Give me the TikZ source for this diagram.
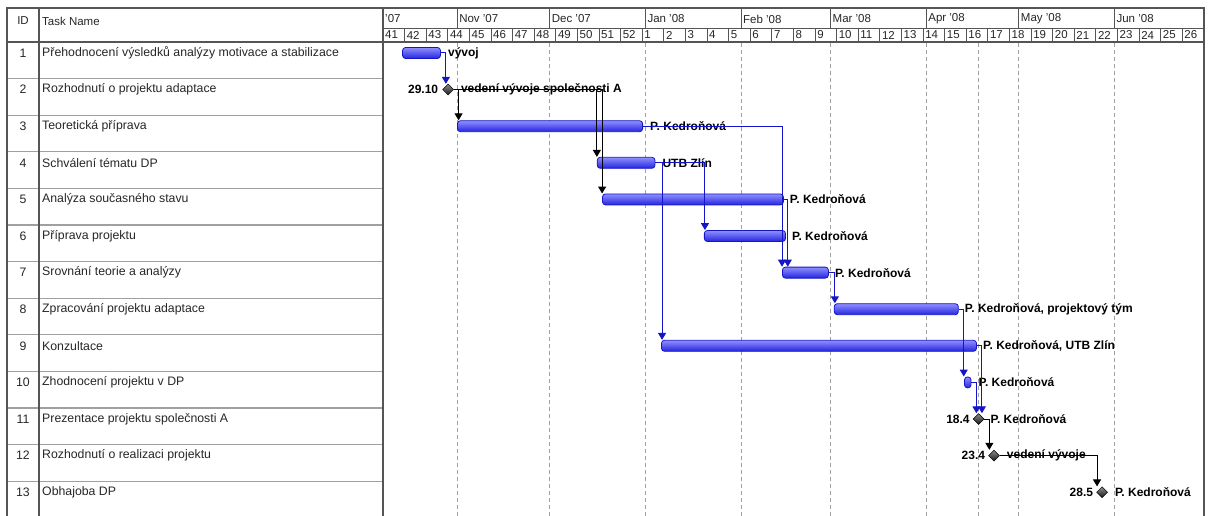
\documentclass[tikz,border=0pt]{standalone}
\usepackage{fontspec}
\setmainfont{Liberation Sans}
\usepackage{xcolor}
\usepackage{tikz}
\usetikzlibrary{shapes.geometric, arrows.meta, positioning, calc}
\definecolor{barblue}{HTML}{2424E0}
\definecolor{barlight}{HTML}{9090FF}
\definecolor{linkblue}{HTML}{1515C8}
\definecolor{framegray}{HTML}{555555}
\definecolor{rowgray}{HTML}{A0A0A0}
\definecolor{gridgray}{HTML}{A0A0A0}
\newcommand{\kedr}{P. Kedroňová}

\begin{document}
\begin{tikzpicture}[
    x=1pt, y=-1pt,
    every node/.style={font=\fontsize{12.3}{14}\selectfont, inner sep=0pt},
    frame/.style={draw=framegray, line width=1.8pt},
    rowline/.style={draw=rowgray, line width=1.3pt},
    hdrline/.style={draw=framegray, line width=0.9pt},
    gridline/.style={draw=gridgray, line width=0.9pt,
                     dash pattern=on 4pt off 3pt},
    hdr/.style={font=\fontsize{11.5}{13}\selectfont, text=black!85},
    taskname/.style={anchor=west, text=black!85},
    taskid/.style={text=black!85},
    ganttbar/.style={rectangle, rounded corners=3pt, minimum height=11pt,
                     anchor=west, draw=linkblue, line width=0.8pt,
                     top color=barlight, bottom color=barblue},
    mstone/.style={diamond, minimum size=11pt, draw=black, line width=0.5pt,
                   top color=black!45, bottom color=black!90},
    res/.style={font=\fontsize{12}{14}\selectfont\bfseries},
    mdate/.style={font=\fontsize{12}{14}\selectfont\bfseries},
    dep/.style={-{Triangle[width=8pt,length=7pt]}, line width=1pt,
                color=linkblue},
    depblack/.style={dep, color=black}
]
\useasboundingbox (0,0) rectangle (1209,516);

% task table
\node[hdr] (hid) at (23,21) {ID};
\node[hdr, anchor=west] (hname) at (42,21) {Task Name};
\foreach \i/\name in {1/Přehodnocení výsledků analýzy motivace a stabilizace,
    2/Rozhodnutí o projektu adaptace, 3/Teoretická příprava,
    4/Schválení tématu DP, 5/Analýza současného stavu,
    6/Příprava projektu, 7/Srovnání teorie a analýzy,
    8/Zpracování projektu adaptace, 9/Konzultace,
    10/Zhodnocení projektu v DP, 11/Prezentace projektu společnosti A,
    12/Rozhodnutí o realizaci projektu, 13/Obhajoba DP}{
  \node[taskid] (id\i) at (23,{53+(\i-1)*36.6}) {\i};
  \node[taskname] (name\i) at (42,{53+(\i-1)*36.6}) {\name};
}
\foreach \k in {1,...,12}
  \draw[rowline] (8,{42+\k*36.6}) -- (382,{42+\k*36.6});

% frame
\draw[frame] (7,516) -- (7,8) -- (1204,8) -- (1204,516);
\draw[frame] (39,8) -- (39,516);
\draw[frame] (383,8) -- (383,516);
\draw[frame] (7,42) -- (1204,42);

% time chart, x in days from 8 Oct 2007
\begin{scope}[shift={(383,0)}, x=3.086pt]
  \draw[hdrline] (0,28) -- (266,28);
  \foreach \d/\mon in {0/'07, 24/Nov '07, 54/Dec '07, 85/Jan '08,
      116/Feb '08, 145/Mar '08, 176/Apr '08, 206/May '08, 237/Jun '08}
    \node[hdr, anchor=west, xshift=2pt] (mon\d) at (\d,19) {\mon};
  \foreach \d in {24,54,85,116,145,176,206,237}
    \draw[hdrline] (\d,8) -- (\d,28);
  \foreach \c in {0,...,37}{
    \pgfmathtruncatemacro{\wk}{mod(40+\c,52)+1}
    \node[hdr, anchor=west, xshift=2pt] (wk\c) at (\c*7,35) {\wk};
  }
  \foreach \c in {1,...,37}
    \draw[hdrline] (\c*7,28) -- (\c*7,42);
  \foreach \d in {24,54,85,116,145,176,193,206,237}
    \draw[gridline] (\d,43) -- (\d,516);

  % bars and milestones
  \foreach \i/\s/\e in {1/6.2/18.5, 3/24/84, 4/69.3/88, 5/71/129.6,
      6/104/130.3, 7/129.3/144.2, 8/146.1/186.3, 9/90.1/192.2,
      10/188.3/190.4}
    \node[ganttbar, minimum width={(\e-\s)*3.086pt}] (t\i)
      at (\s,{53+(\i-1)*36.6}) {};
  \node[mstone] (m2) at (21.1,89.6) {};
  \node[mstone] (m11) at (193,419) {};
  \node[mstone] (m12) at (198,455.6) {};
  \node[mstone] (m13) at (233,492.2) {};

  % resource and date labels
  \node[res, right=7pt of t1] (l1) {vývoj};
  \node[mdate, left=4pt of m2] (d2) {29.10};
  \node[res, right=7pt of m2] (l2) {vedení vývoje společnosti A};
  \node[res, right=7pt of t3] (l3) {\kedr};
  \node[res, right=7pt of t4] (l4) {UTB Zlín};
  \node[res, right=6pt of t5] (l5) {\kedr};
  \node[res, right=6pt of t6] (l6) {\kedr};
  \node[res, right=6pt of t7] (l7) {\kedr};
  \node[res, right=6pt of t8] (l8) {\kedr, projektový tým};
  \node[res, right=6pt of t9] (l9) {\kedr, UTB Zlín};
  \node[res, right=7pt of t10] (l10) {\kedr};
  \node[mdate, left=3pt of m11] (d11) {18.4};
  \node[res, right=6pt of m11] (l11) {\kedr};
  \node[mdate, left=3pt of m12] (d12) {23.4};
  \node[res, right=7pt of m12] (l12) {vedení vývoje};
  \node[mdate, left=3pt of m13] (d13) {28.5};
  \node[res, right=7pt of m13] (l13) {\kedr};

  % links
  \draw[dep] (t1.east) -- ++(5pt,0) coordinate (k1) -- (k1 |- m2.north);
  \draw[depblack] (m2.east) -| ([xshift=1.5pt]t3.north west);
  \draw[depblack] (m2.east) -| ([xshift=0pt]t4.north west);
  \draw[depblack] (m2.east) -| ([xshift=0pt]t5.north west);
  \draw[dep] (t3.east) -| ([xshift=0pt]t7.north west);
  \draw[dep] (t4.east) -| ([xshift=1pt]t6.north west);
  \draw[dep] (t4.east) -| ([xshift=1pt]t9.north west);
  \draw[dep] (t5.east) -- ++(4pt,0) coordinate (k5) -- (k5 |- t7.north);
  \draw[dep] (t7.east) -| ([xshift=1pt]t8.north west);
  \draw[dep] (t8.east) -- ++(5pt,0) coordinate (k8) -- (k8 |- t10.north);
  \draw[dep] (t9.east) -- ++(5pt,0) coordinate (k9) -- (k9 |- m11.north);
  \draw[dep] (t10.east) -- ++(5pt,0) coordinate (k10) -- (k10 |- m11.north);
  \draw[depblack] (m11.east) -- ++(5pt,0) coordinate (k11) -- (k11 |- m12.north);
  \draw[depblack] (m12.east) -| ([xshift=-5pt]m13.north);
\end{scope}
\end{tikzpicture}
\end{document}
